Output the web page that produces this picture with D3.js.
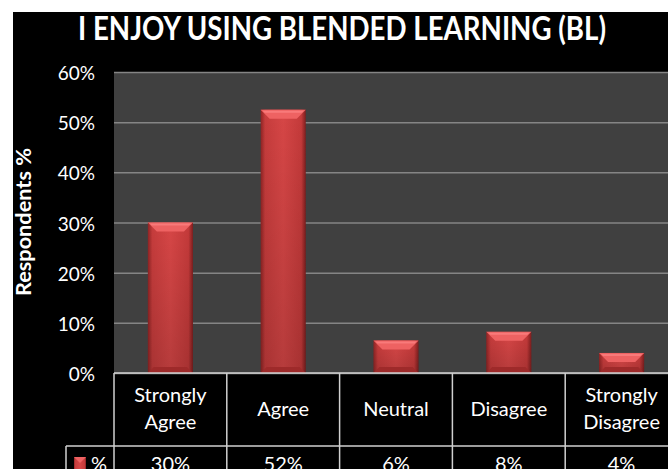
<!DOCTYPE html>
<html>
<head>
<meta charset="utf-8">
<script src="https://cdn.jsdelivr.net/npm/d3@7"></script>
<style>
  body { margin: 0; background: #fff; }
  svg { display: block; }
  text { font-family: Lato, "Open Sans", sans-serif; fill: #fff; }
</style>
</head>
<body>
<svg></svg>
<script>
const [w, h] = [668, 469];
const categories = [['Strongly', 'Agree'], ['Agree'], ['Neutral'], ['Disagree'], ['Strongly', 'Disagree']];
const values = [30, 52.5, 6.5, 8.2, 4];
const tableLabels = ['30%', '52%', '6%', '8%', '4%'];
const yTicks = [0, 10, 20, 30, 40, 50, 60];

const plot = {left: 114, right: 678, top: 72, bottom: 373};
const catW = 112.8;

const svg = d3.select('svg').attr('width', w).attr('height', h);

// black panel, white margin at top/left
svg.append('rect').attr('x', 13).attr('y', 12).attr('width', w).attr('height', h).attr('fill', '#000');

const defs = svg.append('defs');
const grad = defs.append('linearGradient').attr('id', 'barGrad').attr('x1', 0).attr('x2', 1);
grad.append('stop').attr('offset', '0%').attr('stop-color', '#8e2424');
grad.append('stop').attr('offset', '10%').attr('stop-color', '#c63c3c');
grad.append('stop').attr('offset', '50%').attr('stop-color', '#d64646');
grad.append('stop').attr('offset', '90%').attr('stop-color', '#c43a3a');
grad.append('stop').attr('offset', '100%').attr('stop-color', '#7e1e1e');
const vgrad = defs.append('linearGradient').attr('id', 'barShade').attr('x1', 0).attr('x2', 0).attr('y1', 0).attr('y2', 1);
vgrad.append('stop').attr('offset', '0%').attr('stop-color', '#000').attr('stop-opacity', 0);
vgrad.append('stop').attr('offset', '100%').attr('stop-color', '#000').attr('stop-opacity', 0.15);

const xScale = d3.scaleBand()
    .domain(d3.range(categories.length))
    .range([plot.left, plot.left + catW * categories.length])
    .paddingInner(0.6).paddingOuter(0.3);
const yScale = d3.scaleLinear().domain([0, 60]).range([plot.bottom, plot.top]);

// plot background
svg.append('rect')
    .attr('x', plot.left).attr('y', plot.top)
    .attr('width', w - plot.left).attr('height', plot.bottom - plot.top)
    .attr('fill', '#404040');

// gridlines
svg.append('g')
    .attr('transform', `translate(${plot.left},0)`)
    .call(d3.axisLeft(yScale).tickValues(yTicks).tickSize(-(w - plot.left)).tickFormat(''))
    .call(g => g.select('.domain').remove())
    .call(g => g.selectAll('line').attr('stroke', '#858585').attr('stroke-width', 1.5));

// tick labels
svg.append('g').selectAll('text')
    .data(yTicks)
    .enter()
    .append('text')
        .attr('x', 95)
        .attr('y', d => yScale(d) + 8)
        .attr('text-anchor', 'end')
        .style('font-size', '19px')
        .text(d => d + '%');

// bars
const bars = svg.append('g').selectAll('g')
    .data(values)
    .enter()
    .append('g');
bars.append('rect')
    .attr('x', (d, i) => xScale(i))
    .attr('y', d => yScale(d))
    .attr('width', xScale.bandwidth())
    .attr('height', d => yScale(0) - yScale(d))
    .attr('fill', 'url(#barGrad)');
bars.append('rect')
    .attr('x', (d, i) => xScale(i))
    .attr('y', d => yScale(d))
    .attr('width', xScale.bandwidth())
    .attr('height', d => yScale(0) - yScale(d))
    .attr('fill', 'url(#barShade)');
// top bevel
bars.append('path')
    .attr('d', (d, i) => {
        const x0 = xScale(i), x1 = x0 + xScale.bandwidth(), y0 = yScale(d);
        return `M${x0},${y0}L${x1},${y0}L${x1 - 9},${y0 + 9}L${x0 + 9},${y0 + 9}Z`;
    })
    .attr('fill', '#ee6262');
bars.append('path')
    .attr('d', (d, i) => {
        const x0 = xScale(i), x1 = x0 + xScale.bandwidth(), y0 = yScale(d);
        return `M${x0 + 2},${y0 + 1}L${x1 - 2},${y0 + 1}L${x1 - 4},${y0 + 3}L${x0 + 4},${y0 + 3}Z`;
    })
    .attr('fill', '#ff8a8a').attr('opacity', 0.6);
// bottom bevel
bars.append('path')
    .attr('d', (d, i) => {
        const x0 = xScale(i), x1 = x0 + xScale.bandwidth(), y0 = yScale(0);
        return `M${x0},${y0}L${x1},${y0}L${x1 - 6},${y0 - 6}L${x0 + 6},${y0 - 6}Z`;
    })
    .attr('fill', '#9e2a2a');

// data table grid
const tbl = svg.append('g').attr('stroke', '#d0d0d0').attr('stroke-width', 1.5);
tbl.append('line').attr('x1', plot.left).attr('x2', w).attr('y1', plot.bottom).attr('y2', plot.bottom);
tbl.append('line').attr('x1', 66).attr('x2', w).attr('y1', 446).attr('y2', 446);
tbl.append('line').attr('x1', 66).attr('x2', 66).attr('y1', 446).attr('y2', h);
tbl.selectAll('.vl')
    .data(d3.range(categories.length))
    .enter()
    .append('line')
        .attr('x1', i => plot.left + i * catW)
        .attr('x2', i => plot.left + i * catW)
        .attr('y1', plot.bottom)
        .attr('y2', h);

// category labels
const catG = svg.append('g').selectAll('text')
    .data(categories)
    .enter()
    .append('text')
        .attr('x', (d, i) => plot.left + (i + 0.5) * catW)
        .attr('y', d => d.length > 1 ? 402 : 416)
        .attr('text-anchor', 'middle')
        .style('font-size', '20px');
catG.selectAll('tspan')
    .data(d => d)
    .enter()
    .append('tspan')
        .attr('x', function() { return d3.select(this.parentNode).attr('x'); })
        .attr('dy', (d, i) => i ? 27 : 0)
        .text(d => d);

// value row
svg.append('g').selectAll('text')
    .data(tableLabels)
    .enter()
    .append('text')
        .attr('x', (d, i) => plot.left + (i + 0.5) * catW)
        .attr('y', 471)
        .attr('text-anchor', 'middle')
        .style('font-size', '20px')
        .text(d => d);

// legend key
svg.append('rect').attr('x', 74).attr('y', 457).attr('width', 12).attr('height', 14).attr('fill', 'url(#barGrad)');
svg.append('path').attr('d', 'M74,457L86,457L80,463Z').attr('fill', '#ee6262');
svg.append('text').attr('x', 91).attr('y', 471).style('font-size', '20px').text('%');

// title
svg.append('text')
    .attr('x', 342)
    .attr('y', 40)
    .attr('text-anchor', 'middle')
    .style('font-size', '32px')
    .style('font-weight', 'bold')
    .attr('textLength', 528)
    .attr('lengthAdjust', 'spacingAndGlyphs')
    .text('I ENJOY USING BLENDED LEARNING (BL)');

// y axis title
svg.append('text')
    .attr('transform', 'translate(31,222) rotate(-90)')
    .attr('text-anchor', 'middle')
    .style('font-size', '20px')
    .style('font-weight', 'bold')
    .attr('textLength', 148)
    .attr('lengthAdjust', 'spacingAndGlyphs')
    .text('Respondents %');
</script>
</body>
</html>
